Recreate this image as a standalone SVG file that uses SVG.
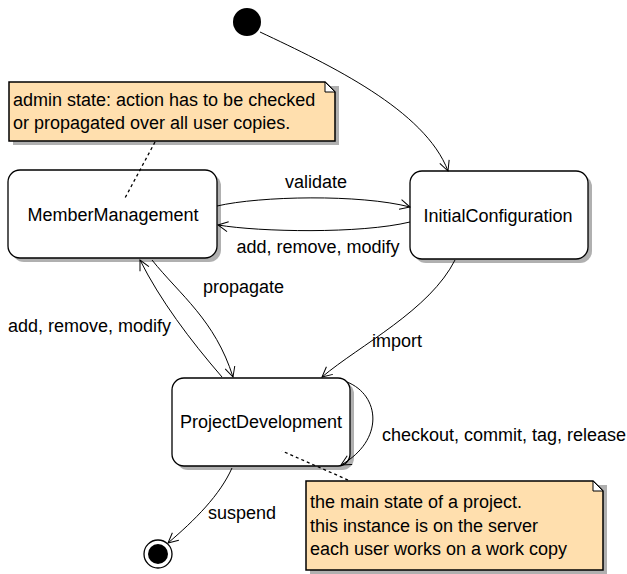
<svg xmlns="http://www.w3.org/2000/svg" width="627" height="574" viewBox="0 0 627 574">
<style>
text{font-family:"Liberation Sans",Arial,sans-serif;font-size:18px;fill:#000}
.box{fill:#fff;stroke:#000;stroke-width:1.3}
.shadow{fill:#b0b0b0}
.note{fill:#ffdfae;stroke:#000;stroke-width:1.5}
.fold{fill:#fff;stroke:#000;stroke-width:1}
.edge{fill:none;stroke:#000;stroke-width:1}
.dash{fill:none;stroke:#000;stroke-width:1.3;stroke-dasharray:3,3}
</style>
<defs>
<marker id="arr" markerWidth="12" markerHeight="12" refX="11" refY="6" orient="auto" markerUnits="userSpaceOnUse">
<path d="M1,1 L11,6 L1,11" fill="none" stroke="#000" stroke-width="1"/>
</marker>
</defs>

<g id="initial">
<circle cx="247" cy="22" r="14" fill="#000"/>
</g>

<g id="note1">
<path class="shadow" d="M13,86 L339,86 L339,145 L13,145 Z"/>
<path class="note" d="M9,82 L325,82 L335,92 L335,141 L9,141 Z"/>
<path class="fold" d="M325,82 L325,92 L335,92 Z"/>
<text x="13" y="106">admin state: action has to be checked</text>
<text x="13" y="129">or propagated over all user copies.</text>
</g>

<g id="MemberManagement">
<rect class="shadow" x="12" y="174" width="209" height="88" rx="12"/>
<rect class="box" x="8" y="170" width="209" height="88" rx="12"/>
<text x="113" y="221" text-anchor="middle">MemberManagement</text>
</g>

<g id="InitialConfiguration">
<rect class="shadow" x="414" y="175" width="178" height="88" rx="12"/>
<rect class="box" x="410" y="171" width="178" height="88" rx="12"/>
<text x="498" y="222" text-anchor="middle">InitialConfiguration</text>
</g>

<g id="ProjectDevelopment">
<rect class="shadow" x="176" y="382" width="178" height="88" rx="12"/>
<rect class="box" x="172" y="378" width="178" height="88" rx="12"/>
<text x="261" y="428" text-anchor="middle">ProjectDevelopment</text>
</g>

<g id="final">
<circle cx="158" cy="554" r="14" fill="#fff" stroke="#000" stroke-width="1.3"/>
<circle cx="158" cy="554" r="10" fill="#000"/>
</g>

<g id="note2">
<path class="shadow" d="M310,485 L607,485 L607,574 L310,574 Z"/>
<path class="note" d="M306,481 L593,481 L603,491 L603,570 L306,570 Z"/>
<path class="fold" d="M593,481 L593,491 L603,491 Z"/>
<text x="310" y="508">the main state of a project.</text>
<text x="310" y="532">this instance is on the server</text>
<text x="310" y="555">each user works on a work copy</text>
</g>

<g id="connectors">
<path class="edge" d="M260,32 C330,65 425,110 448,171" marker-end="url(#arr)"/>
<path class="edge" d="M217,206 C260,196 360,194 410,207" marker-end="url(#arr)"/>
<path class="edge" d="M410,222 C360,234 260,232 218,225" marker-end="url(#arr)"/>
<path class="edge" d="M455,260 C430,310 360,345 322,377" marker-end="url(#arr)"/>
<path class="edge" d="M222,377 C190,340 160,300 140,260" marker-end="url(#arr)"/>
<path class="edge" d="M152,260 C180,295 215,320 233,377" marker-end="url(#arr)"/>
<path class="edge" d="M347,382 C380,395 385,440 341,465" marker-end="url(#arr)"/>
<path class="edge" d="M232,468 C220,495 195,520 168,543" marker-end="url(#arr)"/>
<path class="dash" d="M155,142 L125,198"/>
<path class="dash" d="M348,480 L282,451"/>
<text x="316" y="188" text-anchor="middle">validate</text>
<text x="318" y="253" text-anchor="middle">add, remove, modify</text>
<text x="372" y="347">import</text>
<text x="203" y="293">propagate</text>
<text x="8" y="332">add, remove, modify</text>
<text x="382" y="441">checkout, commit, tag, release</text>
<text x="208" y="519">suspend</text>
</g>
</svg>
